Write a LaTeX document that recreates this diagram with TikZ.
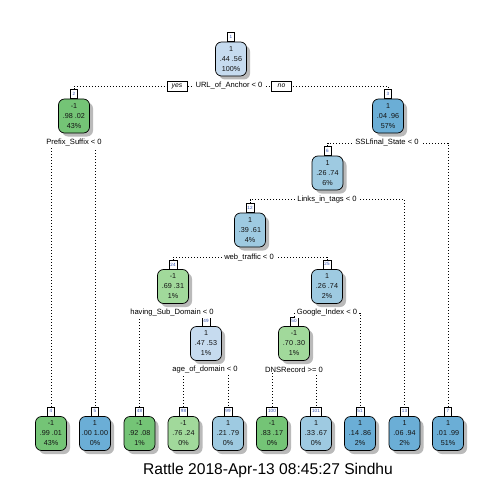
\documentclass[tikz,border=0pt]{standalone}
\usepackage{fontspec}
\setmainfont{Liberation Sans}
\usetikzlibrary{shadows,backgrounds}
\definecolor{gD}{HTML}{74C476}
\definecolor{gL}{HTML}{A1D99B}
\definecolor{bD}{HTML}{6BAED6}
\definecolor{bM}{HTML}{9ECAE1}
\definecolor{bL}{HTML}{C6DBEF}
\definecolor{txt}{HTML}{141414}
\definecolor{tabc}{HTML}{3050B0}
\newcommand\mk[5]{\node[rbox,fill=#3] (#1) at (#2) {#4};\node[rtab] (t#1) at (#1.north) {#5};}
\begin{document}
\begin{tikzpicture}[x=1pt,y=-1pt,
  rbox/.style={draw, line width=0.7pt, rounded corners=6pt, minimum width=31pt, minimum height=34pt,
    inner sep=0pt, align=center, font=\fontsize{7.2}{10}\selectfont, text=txt,
    drop shadow={shadow xshift=3.5pt, shadow yshift=-3.5pt, fill=black!27, opacity=1}},
  rtab/.style={draw, fill=white, line width=0.5pt, font=\fontsize{4.6}{5}\selectfont, text=tabc,
    minimum width=7pt, minimum height=9pt, inner xsep=1.6pt, inner ysep=0pt, anchor=south},
  split/.style={fill=white, inner xsep=2pt, inner ysep=1pt, text=black, font=\fontsize{7.6}{9}\selectfont},
  yn/.style={draw, fill=white, line width=0.6pt, font=\fontsize{6.8}{8}\selectfont\itshape,
    minimum width=20pt, minimum height=10pt, inner sep=0pt},
  branch/.style={line width=0.9pt, dash pattern=on 0.9pt off 2.1pt}]
\useasboundingbox (0,0) rectangle (500,484);
% internal nodes
\mk{n1}{231,59}{bL}{1\\.44 .56\\100\%}{1}
\mk{n2}{74,116}{gD}{-1\\.98 .02\\43\%}{2}
\mk{n3}{388,116}{bD}{1\\.04 .96\\57\%}{3}
\mk{n6}{327.5,173}{bM}{1\\.26 .74\\6\%}{6}
\mk{n12}{250,230}{bM}{1\\.39 .61\\4\%}{12}
\mk{n24}{173,286.5}{gL}{-1\\.69 .31\\1\%}{24}
\mk{n25}{327,286.5}{bM}{1\\.26 .74\\2\%}{25}
\mk{n49}{206,343.5}{bL}{1\\.47 .53\\1\%}{49}
\mk{n50}{294,343.5}{gL}{-1\\.70 .30\\1\%}{50}
% leaves
\mk{n4}{51,433.5}{gD}{-1\\.99 .01\\43\%}{4}
\mk{n5}{95,433.5}{bD}{1\\.00 1.00\\0\%}{5}
\mk{n48}{139.5,433.5}{gD}{-1\\.92 .08\\1\%}{48}
\mk{n98}{183.5,433.5}{gL}{-1\\.76 .24\\0\%}{98}
\mk{n99}{228,433.5}{bM}{1\\.21 .79\\0\%}{99}
\mk{n100}{272,433.5}{gD}{-1\\.83 .17\\0\%}{100}
\mk{n101}{316,433.5}{bM}{1\\.33 .67\\0\%}{101}
\mk{n51}{360,433.5}{bD}{1\\.14 .86\\2\%}{51}
\mk{n13}{404.5,433.5}{bD}{1\\.06 .94\\2\%}{13}
\mk{n7}{448,433.5}{bD}{1\\.01 .99\\51\%}{7}
% split labels
\node[split] (s1) at (229,86) {URL\_of\_Anchor < 0};
\node[yn] (yes) at (177,86) {yes};
\node[yn] (no) at (281.5,86) {no};
\node[split] (s2) at (74,143) {Prefix\_Suffix < 0};
\node[split] (s3) at (387,143) {SSLfinal\_State < 0};
\node[split] (s6) at (327,199.5) {Links\_in\_tags < 0};
\node[split] (s12) at (249,257) {web\_traffic < 0};
\node[split] (s24) at (172,313) {having\_Sub\_Domain < 0};
\node[split] (s25) at (327,313) {Google\_Index < 0};
\node[split] (s49) at (205,369.5) {age\_of\_domain < 0};
\node[split] (s50) at (294,369.5) {DNSRecord >= 0};
% branches
\begin{scope}[on background layer]
\draw[branch] (tn2.north) |- (s1.center) -| (tn3.north);
\draw[branch] (tn4.north) |- (s2.center) -| (tn5.north);
\draw[branch] (tn6.north) |- (s3.center) -| (tn7.north);
\draw[branch] (tn12.north) |- (s6.center) -| (tn13.north);
\draw[branch] (tn24.north) |- (s12.center) -| (tn25.north);
\draw[branch] (tn48.north) |- (s24.center) -| (tn49.north);
\draw[branch] (tn50.north) |- (s25.center) -| (tn51.north);
\draw[branch] (tn98.north) |- (s49.center) -| (tn99.north);
\draw[branch] (tn100.north) |- (s50.center) -| (tn101.north);
\end{scope}
% title
\node[font=\fontsize{15.6}{18}\selectfont, inner sep=0pt] (title) at (268,470) {Rattle 2018-Apr-13 08:45:27 Sindhu};
\end{tikzpicture}
\end{document}
